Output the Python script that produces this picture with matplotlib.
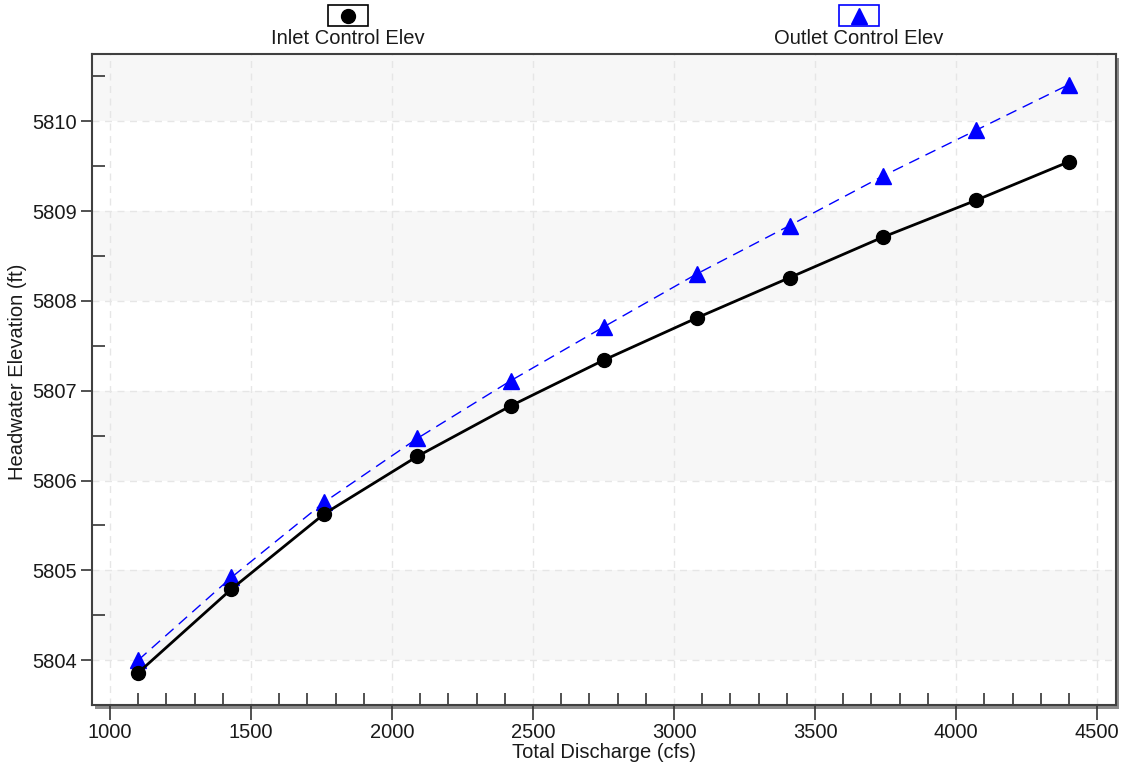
import matplotlib
matplotlib.use("Agg")
import matplotlib.pyplot as plt
from matplotlib.patches import Rectangle
from matplotlib.lines import Line2D
from matplotlib.ticker import MultipleLocator

discharge = [1100, 1430, 1760, 2090, 2420, 2750, 3080, 3410, 3740, 4070, 4400]
inlet_elev = [5803.86, 5804.79, 5805.63, 5806.27, 5806.83, 5807.34, 5807.81,
              5808.26, 5808.71, 5809.12, 5809.55]
outlet_elev = [5804.00, 5804.92, 5805.76, 5806.47, 5807.11, 5807.71, 5808.30,
               5808.84, 5809.39, 5809.90, 5810.41]
y_ticks = [5804, 5805, 5806, 5807, 5808, 5809, 5810]
x_ticks = [1000, 1500, 2000, 2500, 3000, 3500, 4000, 4500]

plt.rcParams['font.family'] = ['Liberation Sans', 'DejaVu Sans']
FS = 14.5

W, H = 1128, 769
fig = plt.figure(figsize=(W / 100, H / 100), dpi=100)
L, R, T, B = 92, 1116, 54, 705
ax = fig.add_axes([L / W, 1 - B / H, (R - L) / W, (B - T) / H])

# shadow behind axes
shadow = Rectangle(((L + 3) / W, 1 - (B + 4) / H), (R - L) / W, (B - T) / H,
                   transform=fig.transFigure, facecolor='#8c8c8c',
                   edgecolor='none', zorder=-1)
fig.add_artist(shadow)

xlim = (936, 4567)
ylim = (5803.5, 5810.75)
ax.set_xlim(*xlim)
ax.set_ylim(*ylim)

# alternating bands
edges = [ylim[0]] + y_ticks + [ylim[1]]
for i in range(len(edges) - 1):
    if i % 2 == 1:
        ax.axhspan(edges[i], edges[i + 1], color='#f7f7f7', zorder=0, lw=0)

ax.set_xticks(x_ticks)
ax.set_yticks(y_ticks)
ax.xaxis.set_minor_locator(MultipleLocator(100))
ax.yaxis.set_minor_locator(MultipleLocator(0.5))
ax.tick_params(axis='both', which='major', direction='out', length=8,
               width=1.2, color='#333333', labelsize=FS, labelcolor='#1a1a1a')
ax.tick_params(axis='x', which='major', length=11, pad=2)
ax.tick_params(axis='y', which='major', pad=3)
ax.tick_params(axis='both', which='minor', direction='in', length=9,
               width=1.2, color='#333333')
ax.grid(True, which='major', color='#e6e6e6', linestyle=(0, (5, 4)), lw=1, zorder=0.5)
ax.set_axisbelow(True)
for s in ax.spines.values():
    s.set_color('#404040')
    s.set_linewidth(1.5)

ax.plot(discharge, outlet_elev, color='#0000ff', lw=1, linestyle=(0, (8, 5)),
        marker='^', markersize=11.5, markerfacecolor='#0000ff',
        markeredgecolor='#0000ff', zorder=3)
ax.plot(discharge, inlet_elev, color='black', lw=2, marker='o',
        markersize=10, markerfacecolor='black', markeredgecolor='black', zorder=4)

ax.set_xlabel('Total Discharge (cfs)', fontsize=FS, color='#1a1a1a')
ax.set_ylabel('Headwater Elevation (ft)', fontsize=FS, color='#1a1a1a')
ax.xaxis.set_label_coords(0.5, -(750 - B) / (B - T) + 0.010)
ax.yaxis.set_label_coords(-(L - 27) / (R - L), (B - 372) / (B - T))

# legend entries at top
def legend_entry(cx, label, marker, color, edge):
    bw, bh = 40, 21
    fig.add_artist(Rectangle(((cx - bw / 2) / W, 1 - 26 / H), bw / W, bh / H,
                             transform=fig.transFigure, facecolor='white',
                             edgecolor=edge, lw=1.2))
    fig.add_artist(Line2D([cx / W], [1 - 15.5 / H], transform=fig.transFigure,
                          marker=marker, markersize=10 if marker == 'o' else 12,
                          color=color, linestyle='none'))
    fig.text(cx / W, 1 - 38 / H, label, ha='center', va='center',
             fontsize=FS, color='#1a1a1a')

legend_entry(348, 'Inlet Control Elev', 'o', 'black', 'black')
legend_entry(859, 'Outlet Control Elev', '^', '#0000ff', '#0000ff')

fig.savefig('out.png', dpi=100)
